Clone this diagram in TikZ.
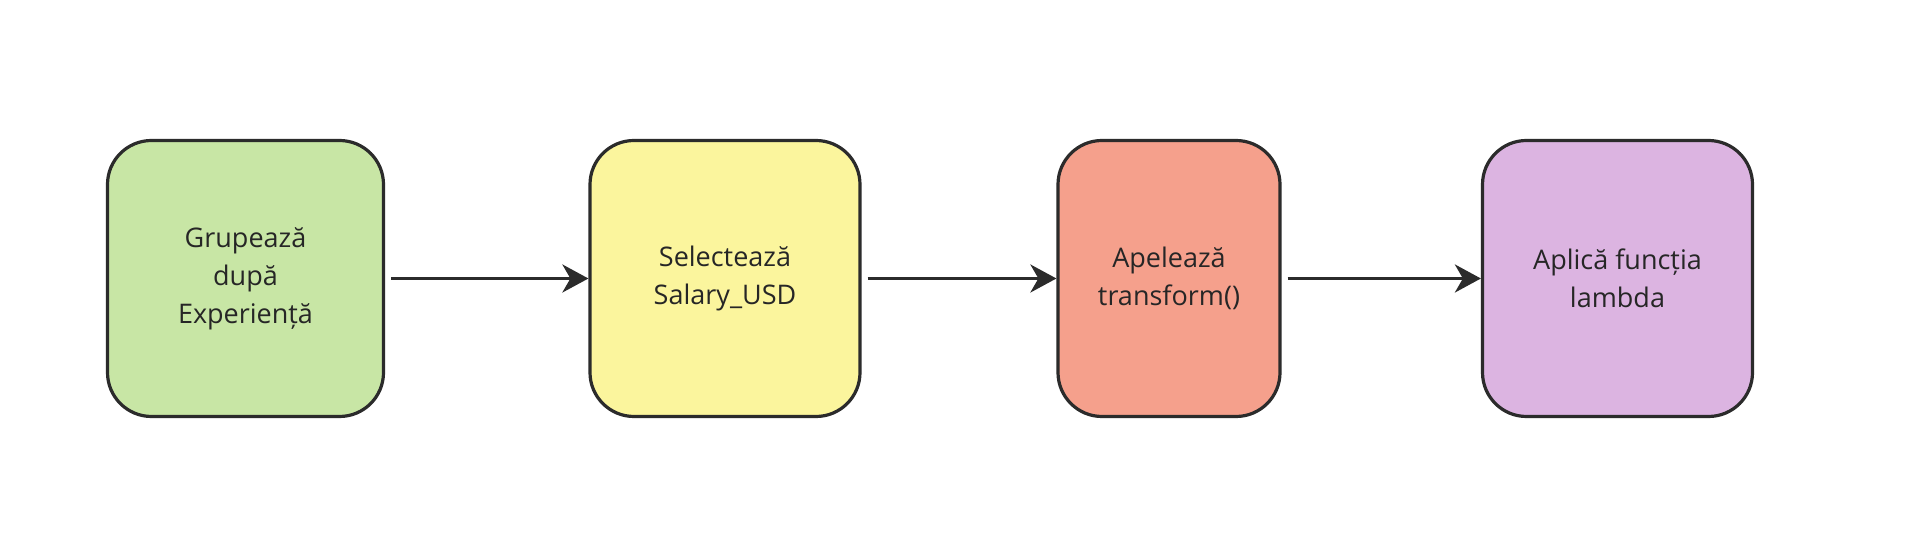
\documentclass[tikz,border=0pt]{standalone}
\usepackage{fontspec}
\setmainfont{Open Sans}
\usetikzlibrary{arrows.meta}
\definecolor{cg}{HTML}{C8E6A5}
\definecolor{cy}{HTML}{FBF59D}
\definecolor{cr}{HTML}{F5A08C}
\definecolor{cp}{HTML}{DCB4E1}
\definecolor{ln}{HTML}{2B2B2B}
\begin{document}
\begin{tikzpicture}[x=0.5pt,y=-0.5pt,
  box/.style={draw=ln,line width=1.6pt,rounded corners=22pt,minimum height=138pt,align=center,font=\fontsize{13.5}{19}\selectfont,text=black!85},
  arr/.style={draw=ln,line width=1.6pt,-{Stealth[length=13pt,width=14pt,inset=4pt]}}]
\useasboundingbox (0,0) rectangle (1912,544);
\fill[white] (0,0) rectangle (1912,544);
\node[box,fill=cg,minimum width=138pt] (a) at (245.5,278.5) {Grupează\\după\\Experiență};
\node[box,fill=cy,minimum width=135pt] (b) at (725,278.5) {Selectează\\Salary\_USD};
\node[box,fill=cr,minimum width=111pt] (c) at (1169,278.5) {Apelează\\transform()};
\node[box,fill=cp,minimum width=135pt] (d) at (1617.5,278.5) {Aplică funcția\\lambda};
\draw[arr] ([xshift=3pt]a.east) -- (b.west);
\draw[arr] ([xshift=3pt]b.east) -- (c.west);
\draw[arr] ([xshift=3pt]c.east) -- (d.west);
\end{tikzpicture}
\end{document}
